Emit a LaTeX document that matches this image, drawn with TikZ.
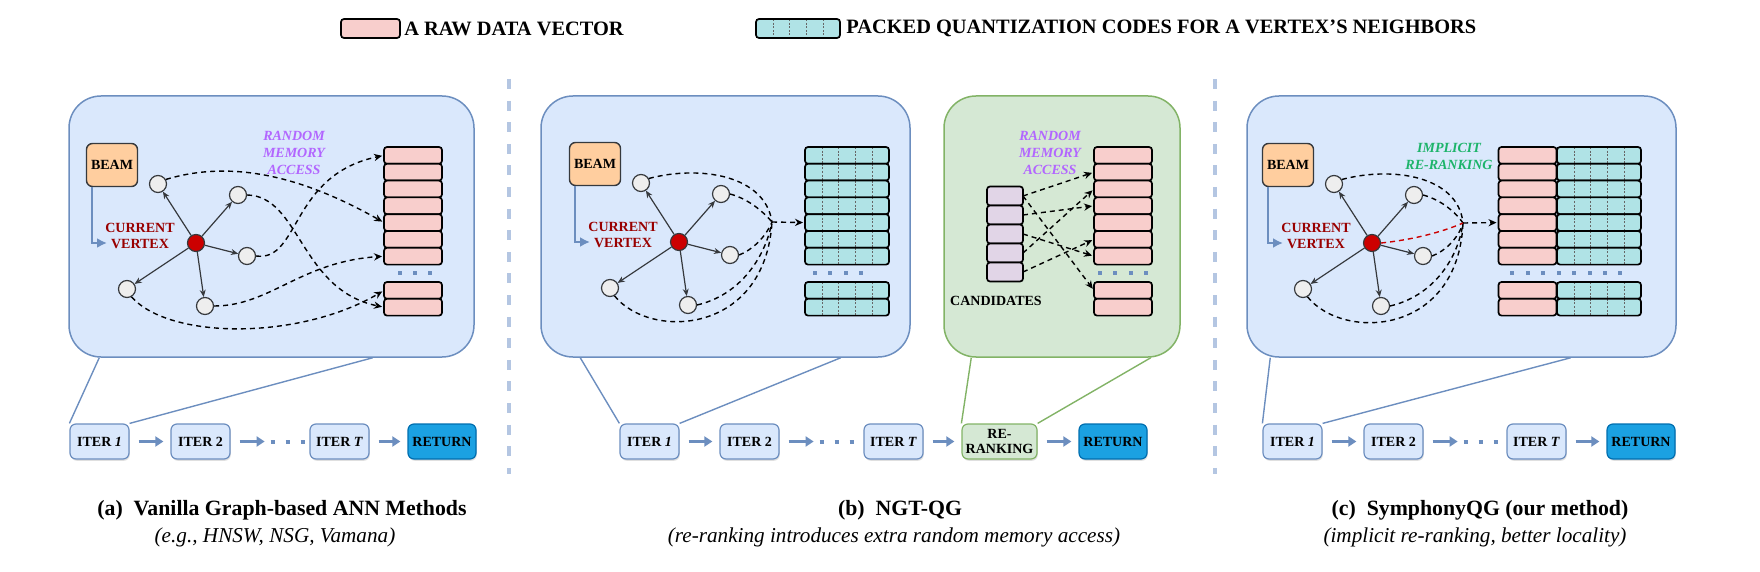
\documentclass[tikz,border=0pt]{standalone}
\usepackage{fontspec}
\setmainfont{Liberation Serif}
\usetikzlibrary{positioning}
\usetikzlibrary{arrows.meta}
\usetikzlibrary{shadows}

\definecolor{panelfill}{HTML}{DAE8FC}
\definecolor{panelline}{HTML}{6C8EBF}
\definecolor{greenfill}{HTML}{D5E8D4}
\definecolor{greenline}{HTML}{82B366}
\definecolor{beamfill}{HTML}{FFCE9F}
\definecolor{darkline}{HTML}{36393D}
\definecolor{rawfill}{HTML}{F8CECC}
\definecolor{codefill}{HTML}{B0E3E6}
\definecolor{candfill}{HTML}{E1D5E7}
\definecolor{vertexred}{HTML}{CC0000}
\definecolor{nbrfill}{HTML}{EEEEEE}
\definecolor{curtext}{HTML}{990000}
\definecolor{accesstext}{HTML}{B266FF}
\definecolor{implicittext}{HTML}{1DB46A}
\definecolor{sepline}{HTML}{B4C6E2}
\definecolor{returnfill}{HTML}{1BA1E2}
\definecolor{returnline}{HTML}{006EAF}

\begin{document}
\begin{tikzpicture}[
    x=0.5pt, y=-0.5pt,
    font=\bfseries\fontsize{7}{8}\selectfont
]
\tikzset{
    panel/.style = {draw=panelline, fill=panelfill, line width=0.75pt, rounded corners=16pt, inner sep=0pt, minimum height=130.5pt},
    greenpanel/.style = {panel, draw=greenline, fill=greenfill},
    beambox/.style = {draw=darkline, fill=beamfill, line width=0.7pt, rounded corners=3pt, minimum width=25.5pt, minimum height=21.5pt, inner sep=0pt},
    curvertex/.style = {circle, draw=darkline, fill=vertexred, line width=0.6pt, minimum size=8.5pt, inner sep=0pt},
    nbr/.style = {circle, draw=darkline, fill=nbrfill, line width=0.6pt, minimum size=8.5pt, inner sep=0pt},
    curlabel/.style = {text=curtext, align=center, inner sep=0pt},
    access/.style = {text=accesstext, align=center, inner sep=0pt, font=\bfseries\itshape\fontsize{7}{8.5}\selectfont},
    implicit/.style = {access, text=implicittext},
    row/.style = {draw=black, line width=0.85pt, rounded corners=1.5pt, minimum height=8.4pt, inner sep=0pt, outer sep=0pt},
    rawrow/.style = {row, fill=rawfill, minimum width=29pt},
    coderow/.style = {row, fill=codefill, minimum width=42pt,
        path picture={\foreach \k in {1,...,4}
            \draw[black!60, line width=0.3pt, dash pattern=on 1pt off 0.8pt]
                ([xshift=\k*8.4pt]path picture bounding box.north west) -- ([xshift=\k*8.4pt]path picture bounding box.south west);}},
    candrow/.style = {row, fill=candfill, minimum width=18pt, minimum height=9.5pt},
    edgearrow/.style = {-{Stealth[length=3.6pt,width=3pt]}, draw=darkline, line width=0.6pt},
    beamarrow/.style = {-{Latex[length=5pt,width=5pt]}, draw=panelline, line width=1.1pt},
    dashline/.style = {draw=black, line width=0.7pt, dash pattern=on 2.5pt off 2pt},
    dasharrow/.style = {dashline, -{Stealth[length=4pt,width=3.6pt]}, shorten >=1pt},
    reddash/.style = {dashline, draw=vertexred},
    sep/.style = {draw=sepline, line width=1.6pt, dash pattern=on 5pt off 5.8pt},
    iterbox/.style = {draw=panelline, fill=panelfill, line width=0.6pt, rounded corners=3pt, minimum width=29.5pt, minimum height=17.5pt, inner sep=0pt,
        drop shadow={shadow xshift=0.4pt, shadow yshift=-0.9pt, opacity=0.25}},
    rrbox/.style = {iterbox, draw=greenline, fill=greenfill, minimum width=37.5pt, align=center, font=\bfseries\fontsize{7}{7.6}\selectfont},
    retbox/.style = {iterbox, draw=returnline, fill=returnfill, minimum width=34pt},
    flow/.style = {-{Triangle[length=4pt,width=5pt]}, draw=panelline, line width=1.2pt, shorten <=4.5pt, shorten >=3.5pt},
    flowdots/.style = {draw=panelline, line width=2pt, dash pattern=on 2pt off 5.5pt, shorten <=3pt},
    link/.style = {draw=panelline, line width=0.7pt},
    greenlink/.style = {draw=greenline, line width=0.7pt},
    legendtxt/.style = {inner sep=0pt, font=\bfseries\fontsize{10.2}{12}\selectfont},
    caption/.style = {inner sep=0pt, font=\bfseries\fontsize{10.9}{12}\selectfont},
    subcaption/.style = {inner sep=0pt, font=\mdseries\itshape\fontsize{10.6}{12}\selectfont}
}
\useasboundingbox (0,0) rectangle (1760,572);

% legend
\node[rawrow, minimum width=29.5pt, minimum height=9.5pt] (leg-raw) at (370.5,28.5) {};
\node[legendtxt, right=2pt of leg-raw] (leg-rawtxt) {A RAW DATA VECTOR};
\node[coderow, minimum height=9.5pt] (leg-code) at (798,28.5) {};
\node[legendtxt, right=3pt of leg-code] (leg-codetxt) {PACKED QUANTIZATION CODES FOR A VERTEX'S NEIGHBORS};

% panels
\node[panel, minimum width=202.5pt] (a-panel) at (271.5,226.5) {};
\node[panel, minimum width=184.5pt] (b-panel) at (725.5,226.5) {};
\node[greenpanel, minimum width=118pt] (b-rrpanel) at (1062,226.5) {};
\node[panel, minimum width=214.5pt] (c-panel) at (1461.5,226.5) {};

\draw[sep] (509,79) -- (509,474);
\draw[sep] (1215,79) -- (1215,474);

% beam, current vertex and its neighbours
\foreach \p/\cx/\cy in {a/196/243, b/679/242, c/1372/243} {
    \begin{scope}[shift={(\cx,\cy)}]
        \node[beambox] (\p-beam) at (-84,-78) {BEAM};
        \node[curlabel] (\p-curtxt) at (-56,-7) {CURRENT\\VERTEX};
        \coordinate (\p-in) at (-89,0);
        \node[curvertex] (\p-cur) at (0,0) {};
        \node[nbr] (\p-n1) at (-38,-59) {};
        \node[nbr] (\p-n2) at (42,-48) {};
        \node[nbr] (\p-n3) at (51,13) {};
        \node[nbr] (\p-n4) at (-69,46) {};
        \node[nbr] (\p-n5) at (9,63) {};
    \end{scope}
    \foreach \k in {1,...,5}
        \draw[edgearrow] (\p-cur) -- (\p-n\k);
    \draw[beamarrow] ([xshift=-10pt]\p-beam.south) |- (\p-in);
}

% (a) raw vectors
\foreach \i in {1,...,7}
    \node[rawrow] (a-raw\i) at (413,{138.6+16.8*\i}) {};
\foreach \i in {1,2}
    \node[rawrow] (a-rawb\i) at (413,{273.6+16.8*\i}) {};
\foreach \x in {400,415,430}
    \fill[panelline] ({\x-2},271) rectangle ({\x+2},275);
\node[access] (a-access) at (294,153) {RANDOM\\MEMORY\\ACCESS};

\draw[dasharrow] (a-n1.30) .. controls (230,160) and (300,175) .. (a-raw5.west);
\draw[dasharrow] (a-n2.east) .. controls (300,196) and (300,290) .. (a-rawb2.west);
\draw[dasharrow] (a-n3.east) .. controls (300,262) and (290,175) .. (a-raw1.west);
\draw[dasharrow] (a-n5.east) .. controls (270,306) and (300,262) .. (a-raw7.west);
\draw[dasharrow] (a-n4.-60) .. controls (170,340) and (300,340) .. (a-rawb1.west);

% (b) packed codes
\foreach \i in {1,...,7}
    \node[coderow] (b-code\i) at (847,{138.6+16.8*\i}) {};
\foreach \i in {1,2}
    \node[coderow] (b-codeb\i) at (847,{273.6+16.8*\i}) {};
\foreach \x in {815,830,846,861}
    \fill[panelline] ({\x-2},271) rectangle ({\x+2},275);

% (b) re-ranking
\foreach \i in {1,...,5}
    \node[candrow] (b-cand\i) at (1005,{177+19*\i}) {};
\node (b-candtxt) at (996,301) {CANDIDATES};
\foreach \i in {1,...,7}
    \node[rawrow] (b-raw\i) at (1123,{138.6+16.8*\i}) {};
\foreach \i in {1,2}
    \node[rawrow] (b-rawb\i) at (1123,{273.6+16.8*\i}) {};
\foreach \x in {1100,1115,1131,1146}
    \fill[panelline] ({\x-2},271) rectangle ({\x+2},275);
\node[access] (b-access) at (1050,153) {RANDOM\\MEMORY\\ACCESS};

\draw[dasharrow] (b-cand1.east) -- (b-raw2.west);
\draw[dasharrow] (b-cand1.east) -- (b-rawb1.west);
\draw[dasharrow] (b-cand2.east) -- (b-raw4.west);
\draw[dasharrow] (b-cand3.east) -- (b-raw7.west);
\draw[dasharrow] (b-cand4.east) -- (b-raw3.west);
\draw[dasharrow] (b-cand5.east) -- (b-raw6.west);

% (c) raw vectors next to packed codes
\foreach \i in {1,...,7} {
    \node[rawrow] (c-raw\i) at (1527.5,{138.6+16.8*\i}) {};
    \node[coderow] (c-code\i) at (1599,{138.6+16.8*\i}) {};
}
\foreach \i in {1,2} {
    \node[rawrow] (c-rawb\i) at (1527.5,{273.6+16.8*\i}) {};
    \node[coderow] (c-codeb\i) at (1599,{273.6+16.8*\i}) {};
}
\foreach \x in {1512,1527.5,1543,1558.5,1574,1589.5,1605,1620}
    \fill[panelline] ({\x-2},271) rectangle ({\x+2},275);
\node[implicit] (c-implicit) at (1449,156.5) {IMPLICIT\\RE-RANKING};

% neighbours gathered into one access
\coordinate (b-m) at (772,222);
\coordinate (c-m) at (1463,223);
\foreach \p/\dx/\dy in {b/0/0, c/693/1} {
    \begin{scope}[shift={(\dx,\dy)}]
        \draw[dashline] (\p-n1.30) .. controls (700,165) and (765,175) .. (\p-m);
        \draw[dashline] (\p-n2.east) .. controls (745,198) and (760,208) .. (\p-m);
        \draw[dashline] (\p-n3.east) .. controls (752,250) and (765,238) .. (\p-m);
        \draw[dashline] (\p-n5.east) .. controls (740,295) and (765,258) .. (\p-m);
        \draw[dashline] (\p-n4.-60) .. controls (650,340) and (765,335) .. (\p-m);
    \end{scope}
}
\draw[reddash] (c-cur.east) .. controls (1410,240) and (1440,233) .. (c-m);
\draw[dasharrow] (b-m) -- (b-code5.west);
\draw[dasharrow] (c-m) -- (c-raw5.west);

% search iterations
\node[iterbox] (a-it1) at (99.5,441.5) {ITER \textit{1}};
\node[iterbox] (a-it2) at (200.5,441.5) {ITER 2};
\node[iterbox] (a-itT) at (339.5,441.5) {ITER \textit{T}};
\node[retbox] (a-ret) at (442,441.5) {RETURN};

\node[iterbox] (b-it1) at (649.5,441.5) {ITER \textit{1}};
\node[iterbox] (b-it2) at (749.5,441.5) {ITER 2};
\node[iterbox] (b-itT) at (893.5,441.5) {ITER \textit{T}};
\node[rrbox] (b-rr) at (999.5,441.5) {RE-\\RANKING};
\node[retbox] (b-ret) at (1113,441.5) {RETURN};

\node[iterbox] (c-it1) at (1292.5,441.5) {ITER \textit{1}};
\node[iterbox] (c-it2) at (1393.5,441.5) {ITER 2};
\node[iterbox] (c-itT) at (1536.5,441.5) {ITER \textit{T}};
\node[retbox] (c-ret) at (1641,441.5) {RETURN};

\foreach \p in {a,b,c} {
    \coordinate (\p-gap) at ([xshift=17pt]\p-it2.east);
    \draw[flow] (\p-it1) -- (\p-it2);
    \draw[flow, shorten >=0pt] (\p-it2.east) -- (\p-gap);
    \draw[flowdots] (\p-gap) -- (\p-itT.west);
}
\draw[flow] (a-itT) -- (a-ret);
\draw[flow] (b-itT) -- (b-rr);
\draw[flow] (b-rr) -- (b-ret);
\draw[flow] (c-itT) -- (c-ret);

% zoom lines from the panels
\draw[link] ([xshift=15.5pt]a-panel.south west) -- (a-it1.north west);
\draw[link] ([xshift=-51pt]a-panel.south east) -- (a-it1.north east);
\draw[link] ([xshift=20pt]b-panel.south west) -- (b-it1.north west);
\draw[link] ([xshift=-35pt]b-panel.south east) -- (b-it1.north east);
\draw[greenlink] ([xshift=14pt]b-rrpanel.south west) -- (b-rr.north west);
\draw[greenlink] ([xshift=-15pt]b-rrpanel.south east) -- (b-rr.north east);
\draw[link] ([xshift=12pt]c-panel.south west) -- (c-it1.north west);
\draw[link] ([xshift=-53pt]c-panel.south east) -- (c-it1.north east);

% captions
\node[caption] (a-cap) at (282,510) {(a)\enspace Vanilla Graph-based ANN Methods};
\node[subcaption] (a-sub) at (275,537) {(e.g., HNSW, NSG, Vamana)};
\node[caption] (b-cap) at (900,510) {(b)\enspace NGT-QG};
\node[subcaption] (b-sub) at (894,537) {(re-ranking introduces extra random memory access)};
\node[caption] (c-cap) at (1480,510) {(c)\enspace SymphonyQG (our method)};
\node[subcaption] (c-sub) at (1475,537) {(implicit re-ranking, better locality)};
\end{tikzpicture}
\end{document}
